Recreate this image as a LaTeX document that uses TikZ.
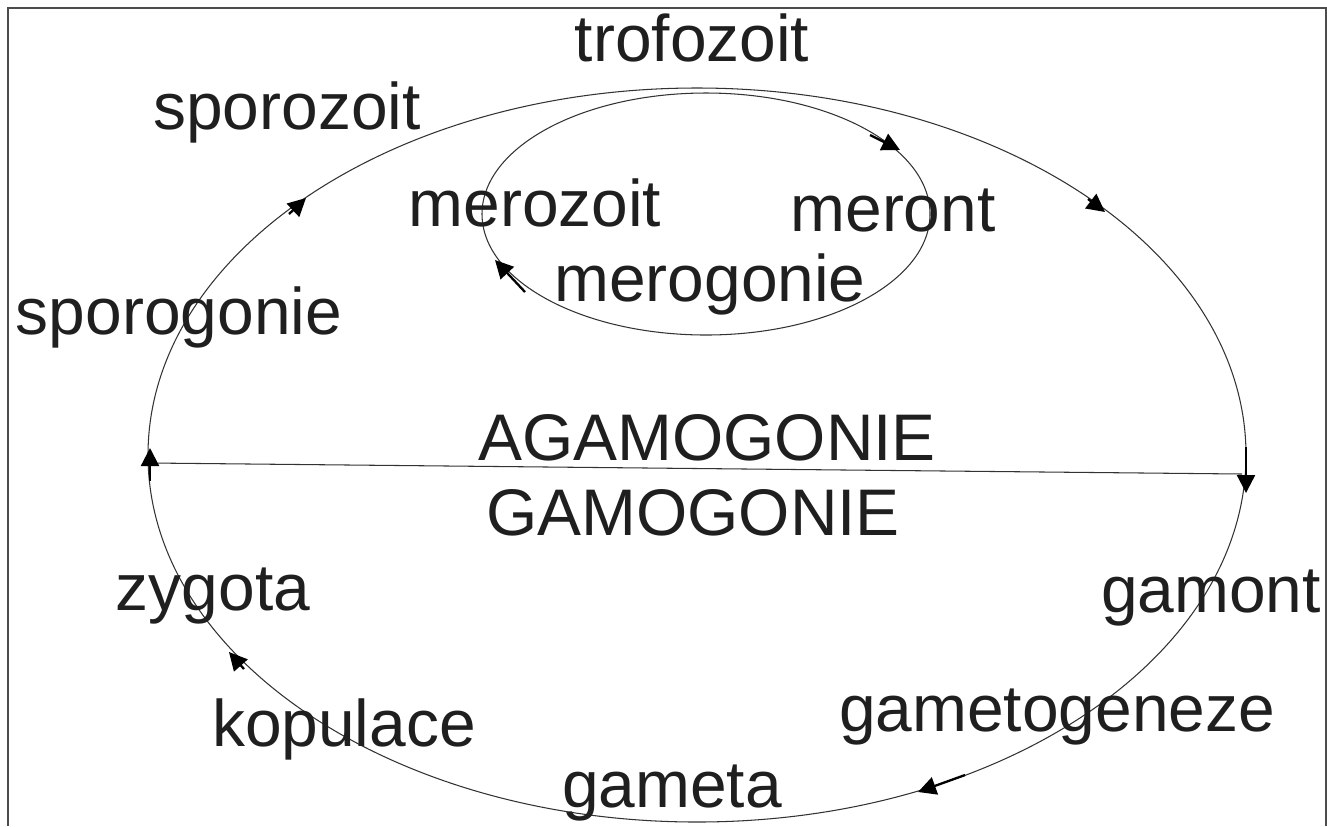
\documentclass[tikz,border=0pt]{standalone}
\usepackage{fontspec}
\setmainfont{Liberation Sans}
\usetikzlibrary{arrows.meta}
\tikzset{
  lbl/.style={inner sep=0pt, anchor=base, text=black!88, font=\fontsize{37.5}{45}\selectfont},
  cycleline/.style={line width=0.6pt, color=black!80},
  dirarrow/.style={line width=1.3pt, -{Triangle[length=0.36cm,width=0.36cm]}},
}

\begin{document}
\begin{tikzpicture}[x=0.02cm, y=-0.02cm]
			%%%%% START %%%%%
			\useasboundingbox (0, 0) rectangle (1327, 826);
			
			% frame, open at the bottom
			\draw[line width=1.2pt, color=black!70] (8, 826) -- (8, 8) -- (1326, 8) -- (1326, 826);
			
			% outer and inner cycle
			\draw[cycleline] (697, 455) ellipse (549 and 367);
			\draw[cycleline] (706, 214) ellipse (224 and 121);
			\draw[cycleline] (150, 463) -- (1242, 474);
			
			% direction marks on the cycles
			\draw[dirarrow] (289, 214) -- (306, 198);
			\draw[dirarrow] (1088, 199) -- (1105, 212);
			\draw[dirarrow] (870, 135) -- (900, 150);
			\draw[dirarrow] (525, 292) -- (495, 260);
			\draw[dirarrow] (150, 481) -- (150, 448);
			\draw[dirarrow] (1246, 447) -- (1246, 493);
			\draw[dirarrow] (965, 775) -- (918, 792);
			\draw[dirarrow] (244, 669) -- (229, 652);
			
			% labels
			\node[lbl] (trofozoit) at (692, 61) {trofozoit};
			\node[lbl] (sporozoit) at (287, 129) {sporozoit};
			\node[lbl] (merozoit) at (535, 226) {merozoit};
			\node[lbl] (meront) at (893, 231) {meront};
			\node[lbl] (merogonie) at (710, 301) {merogonie};
			\node[lbl] (sporogonie) at (179, 334) {sporogonie};
			\node[lbl] (agamogonie) at (707, 460) {AGAMOGONIE};
			\node[lbl] (gamogonie) at (693, 535) {GAMOGONIE};
			\node[lbl] (zygota) at (213, 610) {zygota};
			\node[lbl] (gamont) at (1211, 612) {gamont};
			\node[lbl] (gametogeneze) at (1057, 731) {gametogeneze};
			\node[lbl] (kopulace) at (344, 746) {kopulace};
			\node[lbl] (gameta) at (672, 807) {gameta};
			
			%%%%% END %%%%%
\end{tikzpicture}
\end{document}
